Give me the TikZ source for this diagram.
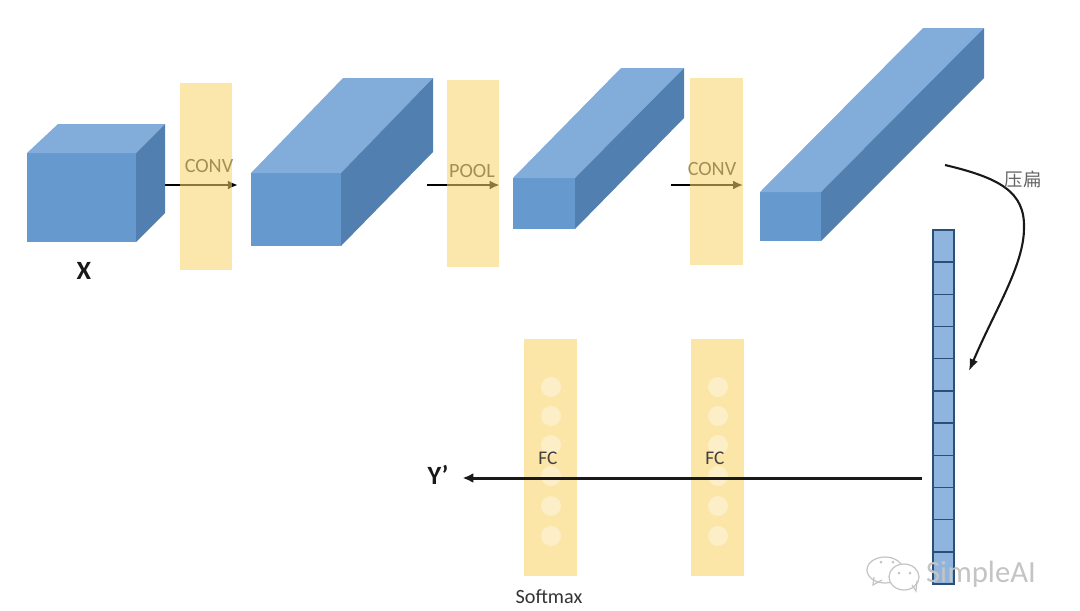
\documentclass[tikz,border=0pt]{standalone}
\usepackage{fontspec}
\setmainfont{Carlito}
\newfontfamily\cjkfont{Noto Sans CJK SC}
\usepackage{tikz}
\usetikzlibrary{
  arrows.meta,
  backgrounds,
}
\definecolor{boxFront}{HTML}{6699CE}
\definecolor{boxTop}{HTML}{82ACD9}
\definecolor{boxSide}{HTML}{5180B0}
\definecolor{barCol}{HTML}{F8D46A}
\definecolor{barSolid}{HTML}{FBE6A8}
\definecolor{dotCol}{HTML}{FCEEC6}
\definecolor{labelTan}{HTML}{A28F55}
\definecolor{cellFill}{HTML}{8FB4DE}
\definecolor{cellLine}{HTML}{2C4F78}
\definecolor{markCol}{HTML}{C4C4C4}
\tikzset{
  layerBar/.style={
    rectangle, fill=barCol, fill opacity=0.565, text opacity=1,
    inner sep=0pt, minimum width=1.05cm, minimum height=3.74cm,
  },
  denseBar/.style={
    rectangle, fill=barSolid, inner sep=0pt, minimum width=1.08cm, minimum height=4.74cm,
  },
  layerText/.style={text=labelTan, font=\fontsize{11.5}{13}\selectfont},
  denseText/.style={text=black!75, font=\fontsize{11}{13}\selectfont},
  bigText/.style={text=black!90, font=\fontsize{15}{17}\selectfont\bfseries},
  arrowLayer/.style={
    -{Latex[length=2mm,width=1.8mm]}, line width=1.4pt, draw=black,
  },
  arrowOut/.style={
    -{Latex[length=2.2mm,width=2mm]}, line width=1.7pt, draw=black!90,
  },
  wechat/.style={draw=markCol, line width=0.7pt, fill=white},
}

\begin{document}
\begin{tikzpicture}[x=0.02cm, y=-0.02cm]
\useasboundingbox (0,0) rectangle (1080,610);

% Feature volumes
\foreach \xa/\xb/\ya/\yb/\xc/\xd/\yc/\yd in {
    27/136/153/242/58/165/124/213,
    251/341/173/246/343/433/78/152,
    513/575/178/229/621/684/68/118,
    760/821/192/241/923/984/28/78} {
  \fill[boxFront] (\xa,\ya) rectangle (\xb,\yb);
  \fill[boxTop] (\xa,\ya) -- (\xc,\yc) -- (\xd,\yc) -- (\xb,\ya) -- cycle;
  \fill[boxSide] (\xb,\ya) -- (\xd,\yc) -- (\xd,\yd) -- (\xb,\yb) -- cycle;
}
\node[bigText] (inputLab) at (84,271) {X};

% Layers between the volumes
\node[layerBar] (convA) at (206,176.5) {};
\node[layerBar] (poolA) at (473,173.5) {};
\node[layerBar] (convB) at (716.5,171.5) {};
\node[layerText] (convAlab) at (209,166) {CONV};
\node[layerText] (poolAlab) at (472,171) {POOL};
\node[layerText] (convBlab) at (712,169) {CONV};

% Arrows sit under the layers
\coordinate (convAin) at (165,185);
\coordinate (poolAin) at (427,185);
\coordinate (convBin) at (671,185);
\begin{scope}[on background layer]
  \draw[arrowLayer] (convAin) -- ([xshift=3pt]convA.east |- convAin);
  \draw[arrowLayer] (poolAin) -- ([xshift=0pt]poolA.east |- poolAin);
  \draw[arrowLayer] (convBin) -- ([xshift=0pt]convB.east |- convBin);
\end{scope}

% Flattened vector
\node[draw=cellLine, fill=cellFill, line width=0.9pt, inner sep=0pt,
  minimum width=0.42cm, minimum height=7.08cm] (vecCol) at (943.5,407) {};
\foreach \i in {1,...,10}
  \draw[cellLine, line width=0.8pt] (933.5,230+\i*32.18) -- (953.5,230+\i*32.18);

% Flatten curve
\coordinate (flatIn) at (945,165);
\coordinate (flatOut) at (969,371);
\draw[-{Latex[length=2.4mm,width=1.8mm]}, line width=1.2pt, black!90] (flatIn)
  .. controls (1000,178) and (1025,192) .. (1024,228)
  .. controls (1024,265) and (995,310) .. (flatOut);
\node[text=black!60, font=\fontsize{10.5}{12}\selectfont\cjkfont] (flatLab) at (1023,180) {压扁};

% Fully connected layers
\foreach \name/\cx/\dx in {denseA/550.5/551, denseB/717.5/718} {
  \node[denseBar] (\name) at (\cx,457.5) {};
  \foreach \cy in {387,416,445,476,506,536}
    \fill[dotCol] (\dx,\cy) circle (0.2cm);
}
\node[denseText] (denseAlab) at (548,458) {FC};
\node[denseText] (denseBlab) at (715,458) {FC};
\node[text=black!80, font=\fontsize{11.5}{13}\selectfont] (softLab) at (549,597) {Softmax};

% Output
\node[bigText] (outLab) at (438,475) {Y’};
\coordinate (vecOut) at (922,478);
\draw[arrowOut] (vecOut) -- ([xshift=4.5pt]outLab.east |- vecOut);

% Watermark
\draw[wechat, fill=none] (885,570) ellipse (0.36cm and 0.26cm);
\draw[markCol, line width=0.7pt] (874,577) -- (873,585) -- (882,580);
\draw[wechat] (904,577) ellipse (0.3cm and 0.26cm);
\draw[markCol, line width=0.7pt] (912,585) -- (916,591) -- (917,581);
\fill[markCol] (881,562) circle (0.03cm) (893,562) circle (0.03cm)
  (899,573) circle (0.03cm) (910,573) circle (0.03cm);
\node[text=markCol, font=\fontsize{17.5}{19}\selectfont] (markLab) at (981,574) {SimpleAI};
\end{tikzpicture}
\end{document}
